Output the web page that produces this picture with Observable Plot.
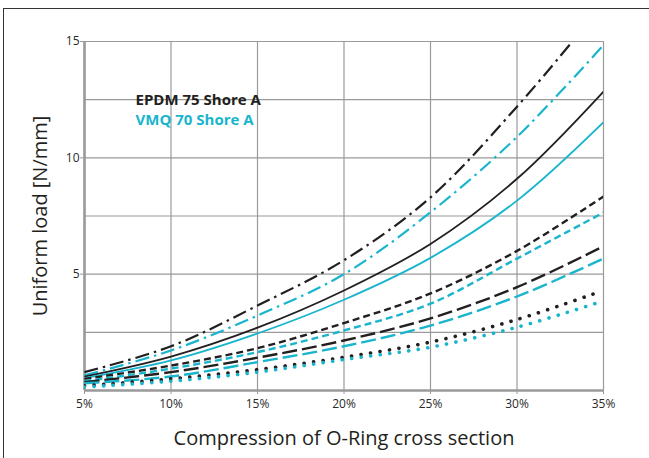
<!DOCTYPE html>
<html><head><meta charset="utf-8">
<script src="https://cdn.jsdelivr.net/npm/d3@7"></script>
<script src="https://cdn.jsdelivr.net/npm/@observablehq/plot@0.6"></script>
<style>
body{margin:0;background:#fff;overflow:hidden;}
#frame{position:absolute;left:3px;top:8px;width:700px;height:500px;border-top:1.5px solid #333;border-left:1.5px solid #333;}
#chart{position:absolute;left:0;top:0;}
</style></head><body><div id="frame"></div><div id="chart"></div>
<script>
const compression = [5,10,15,20,25,30,35];
const epdmDashDotX = [5,10,15,20,25,30,33.2];
const epdmDashDot = [0.79,1.9,3.65,5.6,8.3,12.2,15.0];
const vmqDashDot = [0.65,1.72,3.22,5.0,7.66,10.9,14.85];
const epdmSolid = [0.6,1.46,2.7,4.3,6.3,9.1,12.85];
const vmqSolid = [0.53,1.29,2.45,3.9,5.7,8.16,11.53];
const epdmShortDash = [0.5,1.07,1.82,2.9,4.17,6.0,8.34];
const vmqShortDash = [0.4,0.94,1.65,2.58,3.73,5.67,7.65];
const epdmLongDash = [0.36,0.79,1.41,2.15,3.1,4.44,6.2];
const vmqLongDash = [0.31,0.6,1.22,1.9,2.79,4.04,5.67];
const dottedX = [5,10,15,20,25,30,34.5];
const epdmDotted = [0.2,0.5,0.9,1.43,2.08,3.05,4.17];
const vmqDotted = [0.15,0.4,0.79,1.33,1.86,2.72,3.73];
const xTicks = [5,10,15,20,25,30,35];
const yTicks = [5,10,15];
const yGrid = [0,2.5,5,7.5,10,12.5,15];
const legendLabels = ["EPDM 75 Shore A","VMQ 70 Shore A"];
const xLabel = "Compression of O-Ring cross section";
const yLabel = "Uniform load [N/mm]";

const BLACK = "#231f20", CYAN = "#19b5cd";
const styles = {
  dashdot: {dash: "14,5,2.5,5", width: 2.2, cap: "butt"},
  solid: {dash: null, width: 1.8, cap: "butt"},
  shortdash: {dash: "7,4", width: 2.4, cap: "butt"},
  longdash: {dash: "15,5", width: 2.4, cap: "butt"},
  dotted: {dash: "0.1,9.5", width: 3.6, cap: "round"}
};
const series = [
  {xs: epdmDashDotX, ys: epdmDashDot, color: BLACK, style: "dashdot"},
  {xs: compression, ys: vmqDashDot, color: CYAN, style: "dashdot"},
  {xs: compression, ys: epdmSolid, color: BLACK, style: "solid"},
  {xs: compression, ys: vmqSolid, color: CYAN, style: "solid"},
  {xs: compression, ys: epdmShortDash, color: BLACK, style: "shortdash"},
  {xs: compression, ys: vmqShortDash, color: CYAN, style: "shortdash"},
  {xs: compression, ys: epdmLongDash, color: BLACK, style: "longdash"},
  {xs: compression, ys: vmqLongDash, color: CYAN, style: "longdash"},
  {xs: dottedX, ys: epdmDotted, color: BLACK, style: "dotted"},
  {xs: dottedX, ys: vmqDotted, color: CYAN, style: "dotted"}
];
const lineMarks = series.map(s => {
  const st = styles[s.style];
  const data = s.xs.map((x, i) => ({x, y: s.ys[i]}));
  return Plot.line(data, {x: "x", y: "y", stroke: s.color, strokeWidth: st.width,
    strokeDasharray: st.dash, strokeLinecap: st.cap, curve: "catmull-rom", clip: true});
});

const FONT = "'Open Sans', 'DejaVu Sans', sans-serif";
const chart = Plot.plot({
  width: 649, height: 458,
  marginLeft: 84, marginRight: 46, marginTop: 41, marginBottom: 68,
  style: {fontFamily: FONT, background: "transparent", color: "#333"},
  x: {domain: [5, 35]},
  y: {domain: [0, 15]},
  marks: [
    Plot.gridY(yGrid, {stroke: "#9a9a9a", strokeOpacity: 1, strokeWidth: 1.2}),
    Plot.gridX(xTicks, {stroke: "#9a9a9a", strokeOpacity: 1, strokeWidth: 1.2}),
    Plot.axisY(yTicks, {tickSize: 4, tickPadding: 1, fontSize: 12, label: null, stroke: "#9a9a9a", fill: "#2a2a2a"}),
    Plot.axisX(xTicks, {tickSize: 4, tickPadding: 5, fontSize: 12, label: null, stroke: "#9a9a9a", fill: "#2a2a2a", tickFormat: d => d + "%"}),
    Plot.ruleX([5], {stroke: "#9a9a9a", strokeWidth: 2.6}),
    Plot.ruleY([0], {stroke: "#9a9a9a", strokeWidth: 2.6}),
    ...lineMarks,
    Plot.text([legendLabels[0]], {frameAnchor: "top-left", dx: 51, dy: 59, textAnchor: "start", lineAnchor: "middle", fontSize: 15, fontWeight: "bold", fill: BLACK}),
    Plot.text([legendLabels[1]], {frameAnchor: "top-left", dx: 51, dy: 79, textAnchor: "start", lineAnchor: "middle", fontSize: 15, fontWeight: "bold", fill: CYAN}),
    Plot.text([yLabel], {frameAnchor: "left", dx: -44, rotate: -90, textAnchor: "middle", lineAnchor: "middle", fontSize: 20, fill: "#231f20"}),
    Plot.text([xLabel], {frameAnchor: "bottom", dy: 48, textAnchor: "middle", fontSize: 20, fill: "#231f20", lineAnchor: "middle"})
  ]
});
document.getElementById("chart").appendChild(chart);
</script></body></html>
